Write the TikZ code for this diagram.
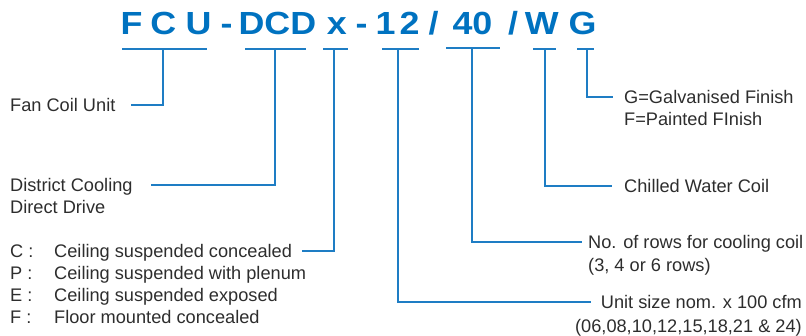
\documentclass[tikz,border=0pt]{standalone}
\usepackage{fontspec}
\setmainfont{Liberation Sans}
\newfontfamily\ttlfont[FakeStretch=1.12]{Liberation Sans}
\definecolor{ttl}{RGB}{0,114,192}
\definecolor{lnc}{RGB}{30,125,196}
\definecolor{txc}{RGB}{45,45,45}
\begin{document}
\begin{tikzpicture}[x=1pt,y=-1pt,
  ttlf/.style={font=\ttlfont\fontsize{32}{38}\selectfont\bfseries, text=ttl, inner sep=0pt, anchor=base west},
  lbl/.style={font=\fontsize{18.2}{22}\selectfont, text=txc, inner sep=0pt, text height=13pt, text depth=0pt, anchor=west},
  lblr/.style={lbl, anchor=east},
  ln/.style={draw=lnc, line width=1.15pt}]
\useasboundingbox (0,0) rectangle (806,335);
% title
\node[ttlf] (tF) at (120.4,34) {F};
\node[ttlf] (tC) at (150.2,34) {C};
\node[ttlf] (tU) at (185.4,34) {U};
\node[ttlf] (th1) at (220.4,34) {-};
\node[ttlf] (tDCD) at (238.4,34) {DCD};
\node[ttlf] (tx) at (326.6,34) {x};
\node[ttlf] (th2) at (355.4,34) {-};
\node[ttlf] (t1) at (375.5,34) {1};
\node[ttlf] (t2) at (399.5,34) {2};
\node[ttlf] (ts1) at (428.5,34) {/};
\node[ttlf] (t40) at (452.3,34) {40};
\node[ttlf] (ts2) at (508,34) {/};
\node[ttlf] (tW) at (524.6,34) {W};
\node[ttlf] (tG) at (568.4,34) {G};
% labels
\node[lbl] (fan) at (10,105) {Fan Coil Unit};
\node[lbl] (dc1) at (10,185) {District Cooling};
\node[lbl] (dc2) at (10,207) {Direct Drive};
\node[lbl] (kC) at (10,251) {C :};
\node[lbl] (kP) at (10,273) {P :};
\node[lbl] (kE) at (10,295) {E :};
\node[lbl] (kF) at (10,317) {F :};
\node[lbl] (vC) at (54,251) {Ceiling suspended concealed};
\node[lbl] (vP) at (54,273) {Ceiling suspended with plenum};
\node[lbl] (vE) at (54,295) {Ceiling suspended exposed};
\node[lbl] (vF) at (54,317) {Floor mounted concealed};
\node[lbl] (g1) at (624,97) {G=Galvanised Finish};
\node[lbl] (g2) at (624,119) {F=Painted FInish};
\node[lbl] (cw) at (624,186) {Chilled Water Coil};
\node[lbl] (nr1) at (588,242) {No. of rows for cooling coil};
\node[lbl] (nr2) at (588,265) {(3, 4 or 6 rows)};
\node[lblr] (us1) at (802,302) {Unit size nom. x 100 cfm};
\node[lblr] (us2) at (802,326) {(06,08,10,12,15,18,21 \& 24)};
% brackets
\coordinate (bFl) at (122,49); \coordinate (bFr) at (207,49); \coordinate (bFs) at (163,49);
\coordinate (bDl) at (245,49); \coordinate (bDr) at (306,49); \coordinate (bDs) at (275,49);
\coordinate (bXl) at (323,49); \coordinate (bXr) at (348,49); \coordinate (bXs) at (334,49);
\coordinate (b1l) at (382,49); \coordinate (b1r) at (419,49); \coordinate (b1s) at (398,49);
\coordinate (b4l) at (446,48); \coordinate (b4r) at (500,48); \coordinate (b4s) at (472,48);
\coordinate (bWl) at (533,49); \coordinate (bWr) at (556,49); \coordinate (bWs) at (545,49);
\coordinate (bGl) at (577,49); \coordinate (bGr) at (594,49); \coordinate (bGs) at (587,49);
\foreach \b in {F,D,X,1,4,W,G} \draw[ln] (b\b l) -- (b\b r);
% connectors
\draw[ln] (bFs) |- ([xshift=15pt]fan.east);
\draw[ln] (bDs) |- ([xshift=18pt]dc1.east);
\draw[ln] (bXs) |- ([xshift=10pt]vC.east);
\draw[ln] (b1s) |- ([xshift=-10pt]us1.west);
\draw[ln] (b4s) |- ([xshift=-6pt]nr1.west);
\draw[ln] (bWs) |- ([xshift=-12pt]cw.west);
\draw[ln] (bGs) |- ([xshift=-11pt]g1.west);
\end{tikzpicture}
\end{document}
